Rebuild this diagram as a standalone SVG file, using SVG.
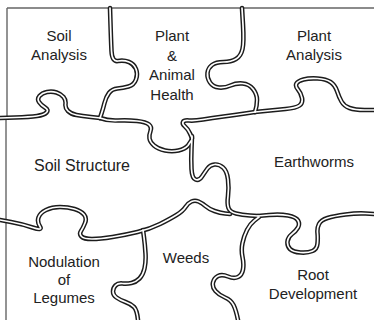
<svg xmlns="http://www.w3.org/2000/svg" xmlns:xlink="http://www.w3.org/1999/xlink" width="374" height="320" viewBox="0 0 374 320">
<style>
.bd{fill:none;stroke:#666;stroke-width:1.4}
.ek{fill:none;stroke:#1c1c1c;stroke-width:4.6;stroke-linecap:round;stroke-linejoin:round}
.ew{fill:none;stroke:#fff;stroke-width:1.7;stroke-linecap:round;stroke-linejoin:round}
text{font-family:"Liberation Sans",Arial,sans-serif;font-size:15px;fill:#222;text-anchor:middle}
</style>
<defs>
<path id="p1" d="M110,8 L110.5,24 Q111,40 111.5,51 Q112,62 118,61 Q124,60 129,62 Q134,64 136,69 Q138,74 136,79.5 Q134,85 128.5,86.5 Q123,88 117.5,88.5 Q112,89 109,93 Q106,97 104.5,103 Q103,109 101.5,113.5 L100,118"/>
<path id="p2" d="M100,118 L91,117 Q82,116 76.5,115 Q71,114 68,111 Q65,108 65.5,104 Q66,100 63.5,97 Q61,94 56.5,92.5 Q52,91 47,92 Q42,93 39.5,96 Q37,99 39,102 Q41,105 45,107.5 Q49,110 46.5,112.5 Q44,115 37,116 Q30,117 15,117.5 L0,118"/>
<path id="p3" d="M242,8 L243,25 Q244,42 242.5,49 Q241,56 236,59 Q231,62 223.5,62 Q216,62 212,65 Q208,68 207.5,73 Q207,78 210,82.5 Q213,87 219,87.5 Q225,88 230.5,85.5 Q236,83 242.5,83.5 Q249,84 253,89 Q257,94 257,100 Q257,106 255,112"/>
<path id="p4" d="M255,112 L245,113.5 Q235,115 223.5,116.5 Q212,118 203,119.5 Q194,121 189,120.5 Q184,120 183,122 Q182,124 185,126.5 Q188,129 190,133.5 L192,138"/>
<path id="p5" d="M100,118 Q108,121 118,120.5 Q128,120 137,121 Q146,122 149,124.5 Q152,127 150.5,131 Q149,135 149.5,138.5 Q150,142 154,145.5 Q158,149 165,150.5 Q172,152 178.5,150.5 Q185,149 188,145.5 L191,141"/>
<path id="p6" d="M192,136 L191.5,148 Q191,160 191.5,169 Q192,178 195.5,179.5 Q199,181 202,176.5 Q205,172 207.5,168.5 Q210,165 214.5,164.5 Q219,164 223,167.5 Q227,171 228,179.5 Q229,188 228,196 Q227,204 228.5,208 Q230,212 236,213.5 Q242,215 250,215.5 L258,216"/>
<path id="p7" d="M255,112 L265,111 Q275,110 285.5,109 Q296,108 299.5,105.5 Q303,103 302,98 Q301,93 298,89.5 Q295,86 296.5,83.5 Q298,81 303.5,79.5 Q309,78 317.5,78.5 Q326,79 330.5,82 Q335,85 337,91 Q339,97 341.5,101.5 Q344,106 349.5,108 Q355,110 364.5,110 L374,110"/>
<path id="p8" d="M0,220 L11,222 Q22,224 32.5,227.5 Q43,231 40,226.5 Q37,222 38.5,217.5 Q40,213 46,210 Q52,207 60,207 Q68,207 74.5,209 Q81,211 84,214.5 Q87,218 85,223 Q83,228 81,231 Q79,234 81.5,236.5 Q84,239 92,239 Q100,239 112.5,237 Q125,235 137.5,232 Q150,229 160,224 Q170,219 176.5,215 Q183,211 185.5,207 Q188,203 191.5,201.5 Q195,200 198.5,201.5 Q202,203 205.5,206 Q209,209 214.5,211 Q220,213 225,213.5 L230,214"/>
<path id="p9" d="M258,216 L269,215 Q280,214 288,215.5 Q296,217 298,220.5 Q300,224 298,227.5 Q296,231 292,234 Q288,237 287.5,241.5 Q287,246 290,249 Q293,252 300.5,252.5 Q308,253 312.5,251 Q317,249 317.5,243.5 Q318,238 317.5,233 Q317,228 319,224 Q321,220 327.5,218 Q334,216 345.5,214.5 Q357,213 365.5,213.5 L374,214"/>
<path id="p10" d="M259,217 L254.5,220.5 Q250,224 247,230 Q244,236 242.5,243 Q241,250 242.5,257 Q244,264 243,269.5 Q242,275 238,277 Q234,279 228,276.5 Q222,274 218,276 Q214,278 213,282.5 Q212,287 215.5,291 Q219,295 225,297.5 Q231,300 233.5,305 Q236,310 238,320"/>
<path id="p11" d="M143,230 L144,237.5 Q145,245 145.5,253.5 Q146,262 144.5,268.5 Q143,275 139.5,278.5 Q136,282 131.5,283 Q127,284 122.5,283.5 Q118,283 115.5,285.5 Q113,288 113,291.5 Q113,295 116.5,297.5 Q120,300 125.5,302 Q131,304 134,307 Q137,310 138,320"/>
</defs>
<rect width="374" height="320" fill="#fff"/>
<g id="connectors">
<path class="bd" d="M7,8 L374,8 M7,8 L7,118 M6,120 L6,320"/>
<g class="ek">
<use xlink:href="#p1"/><use xlink:href="#p2"/><use xlink:href="#p3"/><use xlink:href="#p4"/><use xlink:href="#p5"/><use xlink:href="#p6"/><use xlink:href="#p7"/><use xlink:href="#p8"/><use xlink:href="#p9"/><use xlink:href="#p10"/><use xlink:href="#p11"/>
</g>
<g class="ew">
<use xlink:href="#p1"/><use xlink:href="#p2"/><use xlink:href="#p3"/><use xlink:href="#p4"/><use xlink:href="#p5"/><use xlink:href="#p6"/><use xlink:href="#p7"/><use xlink:href="#p8"/><use xlink:href="#p9"/><use xlink:href="#p10"/><use xlink:href="#p11"/>
</g>
</g>
<g id="soil-analysis"><text x="59" y="41">Soil</text><text x="59" y="60">Analysis</text></g>
<g id="plant-animal-health"><text x="172" y="41">Plant</text><text x="172" y="60.5">&amp;</text><text x="172" y="80">Animal</text><text x="172" y="99.5">Health</text></g>
<g id="plant-analysis"><text x="314" y="41">Plant</text><text x="314" y="60">Analysis</text></g>
<g id="soil-structure"><text x="82" y="171" style="font-size:16px">Soil Structure</text></g>
<g id="earthworms"><text x="314" y="167">Earthworms</text></g>
<g id="nodulation-of-legumes"><text x="64" y="267">Nodulation</text><text x="64" y="285">of</text><text x="64" y="303">Legumes</text></g>
<g id="weeds"><text x="186" y="263">Weeds</text></g>
<g id="root-development"><text x="313" y="280">Root</text><text x="313" y="299">Development</text></g>
</svg>
